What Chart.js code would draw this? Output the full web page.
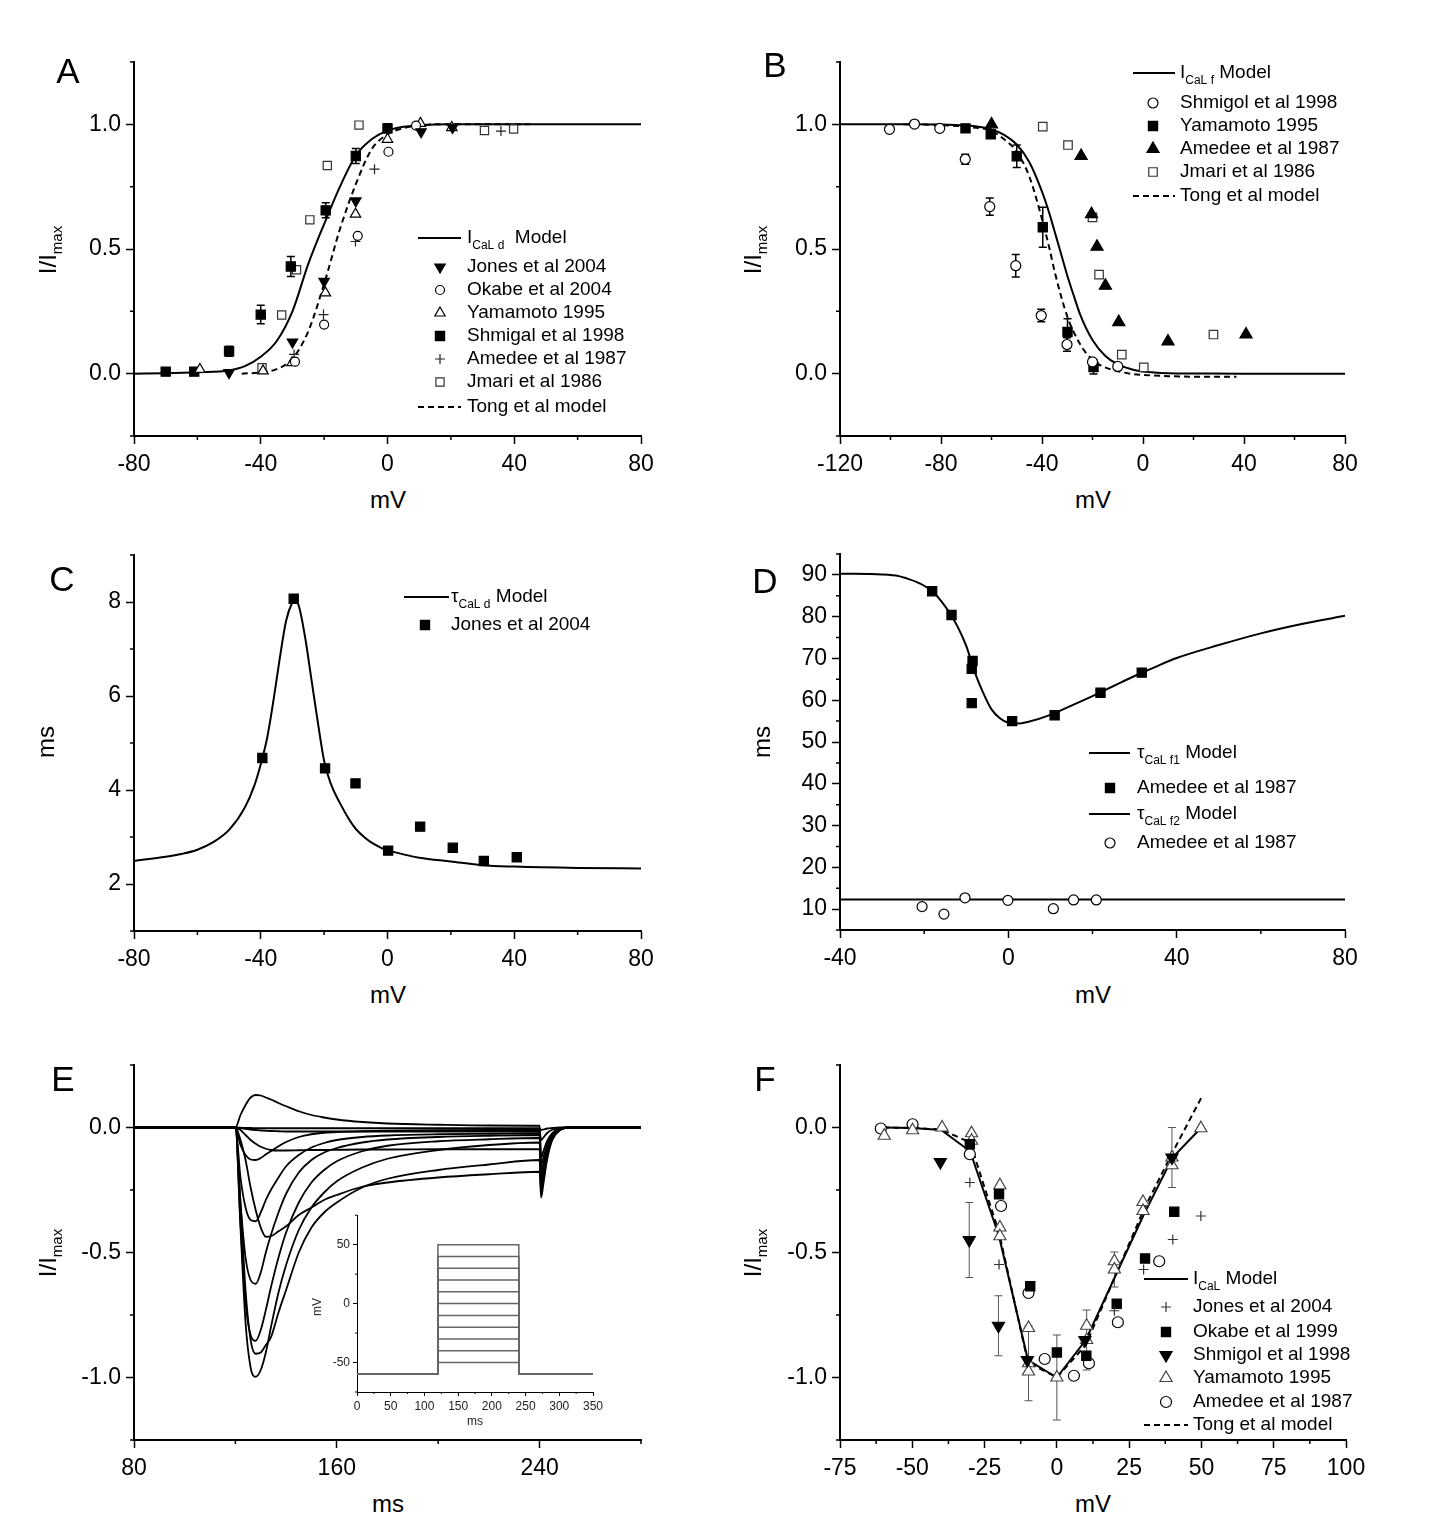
<!DOCTYPE html>
<html>
<head>
<meta charset="utf-8">
<script src="https://cdn.jsdelivr.net/npm/chart.js@4.4.0/dist/chart.umd.min.js"></script>
<style>
body{margin:0;background:#fff;font-family:"Liberation Sans",Arial,Helvetica,sans-serif;color:#000}
#page{position:relative;width:1447px;height:1530px;overflow:hidden;background:#fff}
canvas{position:absolute}
.t{position:absolute;white-space:nowrap;line-height:1}
.letter{font-size:35px;transform:translate(-50%,-50%)}
.xt{font-size:24px;transform:translate(-50%,-50%)}
.yt{font-size:24px;transform:translate(-50%,-50%) rotate(-90deg)}
.yt sub{font-size:15px;vertical-align:-6px}
.small{font-size:12px;color:#222}
</style>
</head>
<body>
<div id="page"></div>
<script>
// ---- A : activation ----
var aModelV = [-80,-70,-60,-50,-45,-40,-35,-30,-25,-20,-15,-10,-5,0,5,10,20,40,80];
var aModelI = [0,0.002,0.006,0.013,0.03,0.068,0.13,0.25,0.44,0.6,0.75,0.875,0.94,0.975,0.99,0.996,1,1,1];
var aTongV = [-46,-40,-35,-30,-25,-20,-15,-10,-5,0,5,10,15,20,30,45];
var aTongI = [0,0.005,0.018,0.06,0.17,0.36,0.58,0.76,0.9,0.96,0.985,0.995,1,1,1,1];
var aJonesV = [-50,-30,-20,-10,10.6,20.5];
var aJonesI = [0.004,0.127,0.37,0.693,0.97,0.987];
var aOkabeV = [-29.2,-20,-9.4,0.3,9];
var aOkabeI = [0.048,0.197,0.553,0.89,0.995];
var aYamaV = [-59.2,-39.3,-30.1,-19.6,-10.1,0,10.4,20.3];
var aYamaI = [0.017,0.011,0.044,0.324,0.64,0.94,1.004,0.987];
var aShmV = [-70,-61,-50,-40,-30.5,-19.5,-10,0];
var aShmI = [0.008,0.008,0.09,0.237,0.43,0.655,0.873,0.984];
var aShmErr = [0,0,0.02,0.037,0.04,0.03,0.03,0.018];
var aAmedV = [-29.5,-20.2,-10.1,-4.1,35.8];
var aAmedI = [0.077,0.237,0.53,0.82,0.973];
var aJmariV = [-39.6,-33.4,-28.7,-24.5,-19,-9,30.6,39.8];
var aJmariI = [0.024,0.235,0.417,0.617,0.835,0.997,0.975,0.981];

// ---- B : inactivation ----
var bModelV = [-120,-100,-90,-80,-70,-65,-60,-55,-50,-45,-40,-37,-35,-33,-30,-27,-25,-20,-15,-10,-5,0,10,20,40,80];
var bModelI = [1,1,1,0.999,0.995,0.99,0.979,0.958,0.919,0.848,0.73,0.64,0.57,0.5,0.394,0.3,0.24,0.135,0.072,0.037,0.019,0.009,0.002,0.001,0,0];
var bTongV = [-95,-80,-70,-60,-55,-50,-45,-40,-37,-35,-30,-25,-20,-15,-10,-5,0,10,20,30,37];
var bTongI = [1,0.997,0.99,0.973,0.94,0.89,0.79,0.62,0.5,0.41,0.23,0.12,0.055,0.025,0.01,0,-0.005,-0.01,-0.012,-0.012,-0.012];
var bShmV = [-100.4,-90.5,-80.5,-70.4,-60.7,-50.4,-40.3,-30.1,-20,-10];
var bShmI = [0.98,1.001,0.984,0.86,0.67,0.433,0.233,0.117,0.047,0.029];
var bShmErr = [0,0,0,0.02,0.035,0.045,0.025,0.027,0,0];
var bYamaV = [-70.3,-60.3,-50,-39.7,-29.9,-19.6];
var bYamaI = [0.984,0.96,0.872,0.587,0.167,0.027];
var bYamaErr = [0,0,0.045,0.08,0.053,0.028];
var bAmedV = [-60,-24.5,-20.4,-18.2,-14.9,-9.6,9.9,40.8];
var bAmedI = [1.0,0.873,0.64,0.509,0.353,0.207,0.129,0.157];
var bJmariV = [-39.7,-29.7,-20,-17.4,-8.4,0.3,27.9];
var bJmariI = [0.991,0.917,0.627,0.397,0.076,0.025,0.157];

// ---- C : tau d ----
var cModelV = [-80,-70,-65,-60,-55,-50,-45,-42,-40,-38,-36,-34,-32,-30,-29.4,-28,-26,-24,-22,-20,-18,-15,-12,-10,-7,-5,-2,0,5,10,20,30,40,60,80];
var cModelT = [2.49,2.58,2.64,2.73,2.89,3.15,3.63,4.1,4.55,5.1,5.9,6.8,7.6,8.0,8.05,7.92,7.25,6.35,5.45,4.62,4.15,3.72,3.36,3.17,2.98,2.88,2.77,2.72,2.63,2.56,2.48,2.4,2.37,2.34,2.33];
var cJonesV = [-39.5,-29.6,-19.7,-10.1,0.2,10.3,20.6,30.4,40.8];
var cJonesT = [4.68,8.07,4.46,4.14,2.71,3.22,2.77,2.49,2.57];

// ---- D : tau f1 / f2 ----
var dF1V = [-40,-30,-26,-24,-22,-20,-18,-16,-14,-12,-10,-8,-6,-4,-2,0,2,5,10,15,20,25,30,35,40,50,60,70,80];
var dF1T = [90.3,90.1,89.7,89.1,88.4,87.4,86.0,83.8,81.0,77.5,73.0,66.8,61.8,57.8,55.7,54.6,54.4,54.9,56.5,58.7,61.0,63.4,65.8,68.0,70.1,73.2,76.0,78.3,80.2];
var dF2V = [-40,80];
var dF2T = [12.3,12.3];
var dAmed1V = [-18.1,-13.5,-8.5,-8.7,-8.7,0.9,11,21.9,31.7];
var dAmed1T = [86.1,80.4,69.4,67.5,59.3,55,56.4,61.8,66.6];
var dAmed2V = [-20.5,-15.3,-10.3,-0.1,10.7,15.5,20.9];
var dAmed2T = [10.6,8.8,12.7,12.1,10.1,12.2,12.2];

// ---- E : current traces (steps -50..+50 mV) ----
var eT = [80,120,122,124,126,128,130,132,134,137,140,145,150,155,160,170,180,200,220,240,240.6,241.5,243,245,248,252,280];
var eP50 = [0,0,0.05,0.09,0.12,0.13,0.128,0.12,0.112,0.098,0.085,0.065,0.05,0.04,0.032,0.022,0.016,0.011,0.008,0.007,-0.12,-0.095,-0.054,-0.022,-0.005,0,0];
var eP40 = [0,0,-0.07,-0.11,-0.128,-0.13,-0.122,-0.108,-0.095,-0.075,-0.058,-0.038,-0.027,-0.021,-0.018,-0.015,-0.013,-0.011,-0.01,-0.01,-0.15,-0.12,-0.068,-0.027,-0.006,0,0];
var eP30 = [0,0,-0.2,-0.32,-0.37,-0.375,-0.34,-0.29,-0.25,-0.2,-0.155,-0.11,-0.08,-0.062,-0.05,-0.038,-0.032,-0.027,-0.025,-0.023,-0.18,-0.145,-0.08,-0.032,-0.007,0,0];
var eP20 = [0,0,-0.3,-0.52,-0.61,-0.625,-0.58,-0.5,-0.43,-0.34,-0.265,-0.18,-0.13,-0.1,-0.082,-0.06,-0.048,-0.038,-0.033,-0.03,-0.2,-0.16,-0.09,-0.036,-0.008,0,0];
var eP10 = [0,0,-0.38,-0.7,-0.83,-0.853,-0.81,-0.73,-0.64,-0.52,-0.42,-0.3,-0.22,-0.17,-0.135,-0.095,-0.073,-0.055,-0.047,-0.042,-0.22,-0.175,-0.1,-0.04,-0.009,0,0];
var eP0 = [0,0,-0.4,-0.78,-0.96,-0.997,-0.97,-0.9,-0.8,-0.66,-0.55,-0.41,-0.32,-0.26,-0.215,-0.16,-0.125,-0.09,-0.07,-0.06,-0.24,-0.19,-0.108,-0.043,-0.01,0,0];
var eM10 = [0,0,-0.3,-0.65,-0.85,-0.905,-0.9,-0.87,-0.84,-0.74,-0.65,-0.5,-0.4,-0.34,-0.3,-0.24,-0.205,-0.17,-0.148,-0.13,-0.26,-0.21,-0.117,-0.047,-0.01,0,0];
var eM20 = [0,0,-0.05,-0.13,-0.24,-0.33,-0.4,-0.437,-0.435,-0.415,-0.395,-0.35,-0.32,-0.29,-0.27,-0.237,-0.22,-0.2,-0.187,-0.177,-0.28,-0.225,-0.126,-0.05,-0.011,0,0];
var eM30 = [0,0,-0.01,-0.03,-0.05,-0.065,-0.077,-0.085,-0.09,-0.092,-0.092,-0.091,-0.09,-0.09,-0.089,-0.088,-0.088,-0.087,-0.087,-0.087,-0.2,-0.16,-0.09,-0.036,-0.008,0,0];
var eM40 = [0,0,-0.002,-0.005,-0.008,-0.01,-0.012,-0.013,-0.014,-0.015,-0.016,-0.016,-0.016,-0.016,-0.016,-0.016,-0.016,-0.016,-0.016,-0.016,-0.05,-0.04,-0.022,-0.009,-0.002,0,0];
var eM50 = [0,0,-0.001,-0.002,-0.002,-0.003,-0.003,-0.003,-0.003,-0.003,-0.003,-0.003,-0.003,-0.003,-0.003,-0.003,-0.003,-0.003,-0.003,-0.003,-0.01,-0.008,-0.004,-0.002,0,0,0];
// inset: voltage protocol
var insetT = [0,120,120,240,240,350];
var insetHold = -60;
var insetLevels = [-50,-40,-30,-20,-10,0,10,20,30,40,50];

// ---- F : I-V ----
var fModelV = [-60,-50,-40,-30,-20,-10,0,10,20,30,40,50];
var fModelI = [0,-0.002,-0.01,-0.095,-0.435,-0.93,-1.0,-0.85,-0.6,-0.35,-0.12,0];
var fTongI = [0,-0.002,-0.008,-0.06,-0.42,-0.94,-1.0,-0.87,-0.6,-0.33,-0.1,0.12];
var fJonesV = [-30.1,-20,19.9,30,40.1,49.8];
var fJonesI = [-0.22,-0.548,-0.733,-0.568,-0.448,-0.354];
var fOkabeV = [-30.1,-20,-9.2,0,10.2,20.7,30.5,40.6];
var fOkabeI = [-0.067,-0.267,-0.635,-0.9,-0.913,-0.705,-0.524,-0.337];
var fShmV = [-40.3,-30.3,-20.2,-10.2,9.7,39.8];
var fShmI = [-0.138,-0.45,-0.793,-0.93,-0.85,-0.12];
var fShmErr = [0,0.15,0.12,0,0,0];
var fYamaV = [-59.7,-49.9,-39.7,-29.5,-29.5,-19.7,-19.7,-19.7,-9.8,-9.8,-9.8,0,10.3,10.3,19.9,19.9,29.8,29.8,39.8,39.8,49.8];
var fYamaI = [-0.033,-0.011,0,-0.023,-0.053,-0.231,-0.4,-0.435,-0.802,-0.943,-0.976,-1.0,-0.793,-0.85,-0.535,-0.568,-0.298,-0.334,-0.12,-0.151,-0.003];
var fYamaErr = [0,0,0,0,0,0,0,0,0,0.15,0,0.17,0,0.12,0,0.07,0,0,0.12,0,0];
var fAmedV = [-60.9,-49.9,-30.1,-19.3,-9.8,-4.2,5.9,11.1,21.1,35.4];
var fAmedI = [-0.004,0.013,-0.107,-0.314,-0.662,-0.926,-0.993,-0.943,-0.779,-0.535];

// ticks
var aXTicks = [-80,-40,0,40,80], aXMinor = [-60,-20,20,60];
var bXTicks = [-120,-80,-40,0,40,80], bXMinor = [-100,-60,-20,20,60];
var iYTicks = [0,0.5,1], iYMinor = [-0.25,0.25,0.75,1.25];
var cYTicks = [2,4,6,8], cYMinor = [1,3,5,7,9];
var dXTicks = [-40,0,40,80], dXMinor = [-20,20,60];
var dYTicks = [10,20,30,40,50,60,70,80,90], dYMinor = [5,15,25,35,45,55,65,75,85,95];
var eXTicks = [80,160,240], eXMinor = [120,200,280];
var nYTicks = [-1,-0.5,0], nYMinor = [-1.25,-0.75,-0.25,0.25];
var fXTicks = [-75,-50,-25,0,25,50,75,100], fXMinor = [-62.5,-37.5,-12.5,12.5,37.5,62.5,87.5];
var inXTicks = [0,50,100,150,200,250,300,350], inXMinor = [25,75,125,175,225,275,325];
var inYTicks = [-50,0,50], inYMinor = [-75,-25,25,75];

var FONT = '"Liberation Sans", Arial, Helvetica, sans-serif';
Chart.defaults.font.family = FONT;
Chart.defaults.color = '#000';
Chart.defaults.animation = false;
Chart.defaults.events = [];
Chart.defaults.plugins.legend.display = false;
Chart.defaults.plugins.tooltip.enabled = false;

var page = document.getElementById('page');

function pts(xs, ys) { return xs.map(function(x, i){ return {x: x, y: ys[i]}; }); }

function curve(xs, ys, opt) {
  return Object.assign({data: pts(xs, ys), showLine: true, borderColor: '#000', borderWidth: 2,
    pointRadius: 0, fill: false, cubicInterpolationMode: 'monotone', order: 10}, opt || {});
}
function marks(xs, ys, style, r, open, opt) {
  return Object.assign({data: pts(xs, ys), showLine: false, pointStyle: style, pointRadius: r,
    pointBorderWidth: 1.2, pointBorderColor: '#000', pointBackgroundColor: open ? '#fff' : '#000',
    borderColor: '#000', backgroundColor: open ? '#fff' : '#000', order: 1}, opt || {});
}

var fmt1 = function(v){ return v.toFixed(1); };
var fmt0 = function(v){ return String(v); };

function axis(min, max, ticks, fmt, size, s) {
  return {
    type: 'linear', min: min, max: max,
    afterBuildTicks: function(sc){ sc.ticks = ticks.map(function(v){ return {value: v}; }); },
    afterFit: function(sc){ if (sc.isHorizontal()) sc.height = size; else sc.width = size; },
    grid: {display: true, drawOnChartArea: false, drawTicks: true, tickLength: s.tick, tickWidth: s.lw, tickColor: '#000'},
    border: {display: true, color: '#000', width: s.bw},
    ticks: {font: {size: s.font}, color: s.color, padding: s.pad, maxRotation: 0, autoSkip: false, callback: fmt}
  };
}

// minor tick marks on the two axes
var minorTicks = {
  id: 'minorTicks',
  afterDraw: function(chart, args, o) {
    var ctx = chart.ctx, xs = chart.scales.x, ys = chart.scales.y;
    ctx.save(); ctx.strokeStyle = '#000'; ctx.lineWidth = o.lw || 1.5;
    ctx.beginPath();
    (o.x || []).forEach(function(v){ var p = xs.getPixelForValue(v); ctx.moveTo(p, xs.top); ctx.lineTo(p, xs.top + o.len); });
    (o.y || []).forEach(function(v){ var p = ys.getPixelForValue(v); ctx.moveTo(ys.right, p); ctx.lineTo(ys.right - o.len, p); });
    ctx.stroke(); ctx.restore();
  }
};

var errorBars = {
  id: 'errorBars',
  beforeDatasetsDraw: function(chart) {
    var ctx = chart.ctx, xs = chart.scales.x, ys = chart.scales.y;
    chart.data.datasets.forEach(function(ds){
      if (!ds.errs) return;
      ctx.save(); ctx.strokeStyle = ds.errColor || '#000'; ctx.lineWidth = ds.errWidth || 1.5;
      ds.data.forEach(function(p, i){
        var e = ds.errs[i]; if (!e) return;
        var x = xs.getPixelForValue(p.x), y0 = ys.getPixelForValue(p.y - e), y1 = ys.getPixelForValue(p.y + e), c = ds.capW || 4;
        ctx.beginPath();
        ctx.moveTo(x, y0); ctx.lineTo(x, y1);
        ctx.moveTo(x - c, y0); ctx.lineTo(x + c, y0);
        ctx.moveTo(x - c, y1); ctx.lineTo(x + c, y1);
        ctx.stroke();
      });
      ctx.restore();
    });
  }
};

var legendBox = {
  id: 'legendBox',
  afterDraw: function(chart, args, o) {
    if (!o || !o.rows) return;
    var ctx = chart.ctx;
    ctx.save();
    o.rows.forEach(function(r){
      var ds = chart.data.datasets[r.ds];
      var y = r.y - o.oy;
      if (r.line) {
        ctx.strokeStyle = ds.borderColor; ctx.lineWidth = ds.borderWidth; ctx.setLineDash(ds.borderDash || []);
        ctx.beginPath(); ctx.moveTo(o.x0 - o.ox, y); ctx.lineTo(o.x1 - o.ox, y); ctx.stroke();
        ctx.setLineDash([]);
      } else {
        ctx.fillStyle = ds.pointBackgroundColor; ctx.strokeStyle = ds.pointBorderColor; ctx.lineWidth = ds.pointBorderWidth;
        Chart.helpers.drawPoint(ctx, {pointStyle: ds.pointStyle, rotation: ds.pointRotation || 0,
          radius: ds.pointRadius, borderWidth: ds.pointBorderWidth}, o.sx - o.ox, y);
      }
      var x = o.tx - o.ox;
      ctx.fillStyle = '#000'; ctx.textBaseline = 'middle'; ctx.textAlign = 'left';
      r.text.forEach(function(p){
        var sub = typeof p !== 'string', s = sub ? p.sub : p;
        ctx.font = (sub ? 12 : 19) + 'px ' + FONT;
        ctx.fillText(s, x, sub ? y + 8 : y);
        x += ctx.measureText(s).width;
      });
    });
    ctx.restore();
  }
};

var MAIN = {yw: 100, xh: 50, pt: 20, pr: 40, tick: 8, minor: 4, lw: 1.5, bw: 2, font: 23, pad: 5, color: '#000'};

function panel(box, sx, sy, datasets, minor, legend, st) {
  st = st || MAIN;
  var cv = document.createElement('canvas');
  var w = box.r - box.l + st.yw + st.pr, h = box.b - box.t + st.pt + st.xh;
  var ox = box.l - st.yw, oy = box.t - st.pt;
  cv.width = w; cv.height = h;
  cv.style.left = ox + 'px'; cv.style.top = oy + 'px';
  cv.style.width = w + 'px'; cv.style.height = h + 'px';
  page.appendChild(cv);
  var xAx = axis(sx.min, sx.max, sx.ticks, sx.fmt, st.xh, Object.assign({}, st, {pad: st.xpad || 7}));
  var yAx = axis(sy.min, sy.max, sy.ticks, sy.fmt, st.yw, st);
  if (legend) { legend.ox = ox; legend.oy = oy; }
  return new Chart(cv, {
    type: 'scatter',
    data: {datasets: datasets},
    options: {
      responsive: false,
      layout: {autoPadding: false, padding: {left: 0, right: st.pr, top: st.pt, bottom: 0}},
      scales: {x: xAx, y: yAx},
      plugins: {
        minorTicks: {x: minor.x, y: minor.y, len: st.minor, lw: st.lw},
        legendBox: legend || {}
      }
    },
    plugins: [errorBars, minorTicks, legendBox]
  });
}

var dash = {borderDash: [6, 4]};
var MOD = 'Model';

// A
panel({l: 134, t: 62, r: 641, b: 436},
  {min: -80, max: 80, ticks: aXTicks, fmt: fmt0},
  {min: -0.25, max: 1.25, ticks: iYTicks, fmt: fmt1},
  [
    curve(aModelV, aModelI),
    marks(aJonesV, aJonesI, 'triangle', 6, false, {pointRotation: 180}),
    marks(aOkabeV, aOkabeI, 'circle', 4.5, true),
    marks(aYamaV, aYamaI, 'triangle', 6, true),
    marks(aShmV, aShmI, 'rect', 6.5, false, {errs: aShmErr, capW: 4}),
    marks(aAmedV, aAmedI, 'cross', 5, false, {pointBorderColor: '#222'}),
    marks(aJmariV, aJmariI, 'rect', 5.8, true, {pointBorderColor: '#333'}),
    curve(aTongV, aTongI, dash)
  ],
  {x: aXMinor, y: iYMinor},
  {x0: 418, x1: 461, sx: 440, tx: 467, rows: [
    {ds: 0, line: true, y: 238, text: ['I', {sub: 'CaL d'}, '  ' + MOD]},
    {ds: 1, y: 267, text: ['Jones et al 2004']},
    {ds: 2, y: 290, text: ['Okabe et al 2004']},
    {ds: 3, y: 313, text: ['Yamamoto 1995']},
    {ds: 4, y: 336, text: ['Shmigal et al 1998']},
    {ds: 5, y: 359, text: ['Amedee et al 1987']},
    {ds: 6, y: 382, text: ['Jmari et al 1986']},
    {ds: 7, line: true, y: 407, text: ['Tong et al model']}
  ]});

// B
panel({l: 840, t: 62, r: 1345, b: 436},
  {min: -120, max: 80, ticks: bXTicks, fmt: fmt0},
  {min: -0.25, max: 1.25, ticks: iYTicks, fmt: fmt1},
  [
    curve(bModelV, bModelI),
    marks(bShmV, bShmI, 'circle', 5, true, {errs: bShmErr, capW: 4}),
    marks(bYamaV, bYamaI, 'rect', 6.5, false, {errs: bYamaErr, capW: 4}),
    marks(bAmedV, bAmedI, 'triangle', 7, false),
    marks(bJmariV, bJmariI, 'rect', 6, true, {pointBorderColor: '#333'}),
    curve(bTongV, bTongI, dash)
  ],
  {x: bXMinor, y: iYMinor},
  {x0: 1133, x1: 1175, sx: 1153, tx: 1180, rows: [
    {ds: 0, line: true, y: 73, text: ['I', {sub: 'CaL f'}, ' ' + MOD]},
    {ds: 1, y: 103, text: ['Shmigol et al 1998']},
    {ds: 2, y: 126, text: ['Yamamoto 1995']},
    {ds: 3, y: 149, text: ['Amedee et al 1987']},
    {ds: 4, y: 172, text: ['Jmari et al 1986']},
    {ds: 5, line: true, y: 196, text: ['Tong et al model']}
  ]});

// C
panel({l: 134, t: 555, r: 641, b: 931},
  {min: -80, max: 80, ticks: aXTicks, fmt: fmt0},
  {min: 1, max: 9, ticks: cYTicks, fmt: fmt0},
  [
    curve(cModelV, cModelT),
    marks(cJonesV, cJonesT, 'rect', 6.5, false)
  ],
  {x: aXMinor, y: cYMinor},
  {x0: 404, x1: 449, sx: 425, tx: 451, rows: [
    {ds: 0, line: true, y: 597, text: ['\u03c4', {sub: 'CaL d'}, ' ' + MOD]},
    {ds: 1, y: 625, text: ['Jones et al 2004']}
  ]});

// D
panel({l: 840, t: 554, r: 1345, b: 930},
  {min: -40, max: 80, ticks: dXTicks, fmt: fmt0},
  {min: 5, max: 95, ticks: dYTicks, fmt: fmt0},
  [
    curve(dF1V, dF1T),
    marks(dAmed1V, dAmed1T, 'rect', 6.5, false),
    curve(dF2V, dF2T),
    marks(dAmed2V, dAmed2T, 'circle', 5, true)
  ],
  {x: dXMinor, y: dYMinor},
  {x0: 1089, x1: 1130, sx: 1110, tx: 1137, rows: [
    {ds: 0, line: true, y: 753, text: ['\u03c4', {sub: 'CaL f1'}, ' ' + MOD]},
    {ds: 1, y: 788, text: ['Amedee et al 1987']},
    {ds: 2, line: true, y: 814, text: ['\u03c4', {sub: 'CaL f2'}, ' ' + MOD]},
    {ds: 3, y: 843, text: ['Amedee et al 1987']}
  ]});

// E
var eTraces = [eP50, eP40, eP30, eP20, eP10, eP0, eM10, eM20, eM30, eM40, eM50];
panel({l: 134, t: 1065, r: 641, b: 1440},
  {min: 80, max: 280, ticks: eXTicks, fmt: fmt0},
  {min: -1.25, max: 0.25, ticks: nYTicks, fmt: fmt1},
  eTraces.map(function(tr){ return curve(eT, tr, {borderWidth: 1.8}); }),
  {x: eXMinor, y: nYMinor},
  null);

// E inset (voltage protocol)
var INSET = {yw: 45, xh: 36, pt: 10, pr: 20, tick: 4, minor: 2, lw: 1, bw: 1, font: 12, pad: 3, xpad: 3, color: '#222'};
panel({l: 357, t: 1215, r: 593, b: 1392},
  {min: 0, max: 350, ticks: inXTicks, fmt: fmt0},
  {min: -75, max: 75, ticks: inYTicks, fmt: fmt0},
  insetLevels.map(function(lv){
    var vs = [insetHold, insetHold, lv, lv, insetHold, insetHold];
    return curve(insetT, vs, {borderColor: '#666', borderWidth: 1.5, cubicInterpolationMode: 'default', tension: 0});
  }),
  {x: inXMinor, y: inYMinor},
  null, INSET);

// F
panel({l: 840, t: 1065, r: 1346, b: 1440},
  {min: -75, max: 100, ticks: fXTicks, fmt: fmt0},
  {min: -1.25, max: 0.25, ticks: nYTicks, fmt: fmt1},
  [
    curve(fModelV, fModelI, {cubicInterpolationMode: 'default', tension: 0}),
    marks(fJonesV, fJonesI, 'cross', 5, false, {pointBorderColor: '#333'}),
    marks(fOkabeV, fOkabeI, 'rect', 6.5, false),
    marks(fShmV, fShmI, 'triangle', 7, false, {pointRotation: 180, errs: fShmErr, errColor: '#555', errWidth: 1, capW: 4}),
    marks(fYamaV, fYamaI, 'triangle', 7, true, {pointBorderColor: '#444', errs: fYamaErr, errColor: '#555', errWidth: 1, capW: 4}),
    marks(fAmedV, fAmedI, 'circle', 5.5, true),
    curve(fModelV, fTongI, {borderDash: [6, 4], cubicInterpolationMode: 'default', tension: 0})
  ],
  {x: fXMinor, y: nYMinor},
  {x0: 1144, x1: 1188, sx: 1166, tx: 1193, rows: [
    {ds: 0, line: true, y: 1279, text: ['I', {sub: 'CaL'}, ' ' + MOD]},
    {ds: 1, y: 1307, text: ['Jones et al 2004']},
    {ds: 2, y: 1332, text: ['Okabe et al 1999']},
    {ds: 3, y: 1355, text: ['Shmigol et al 1998']},
    {ds: 4, y: 1378, text: ['Yamamoto 1995']},
    {ds: 5, y: 1402, text: ['Amedee et al 1987']},
    {ds: 6, line: true, y: 1425, text: ['Tong et al model']}
  ]});

// text labels
var labels = [
  ['letter', 68, 70, 'A'], ['letter', 775, 64, 'B'], ['letter', 62, 578, 'C'],
  ['letter', 765, 580, 'D'], ['letter', 63, 1078, 'E'], ['letter', 765, 1078, 'F'],
  ['xt', 388, 500, 'mV'], ['xt', 1093, 500, 'mV'], ['xt', 388, 995, 'mV'],
  ['xt', 1093, 995, 'mV'], ['xt', 388, 1504, 'ms'], ['xt', 1093, 1504, 'mV'],
  ['yt', 50, 250, 'I/I<sub>max</sub>'], ['yt', 755, 250, 'I/I<sub>max</sub>'],
  ['yt', 46, 742, 'ms'], ['yt', 762, 742, 'ms'],
  ['yt', 50, 1253, 'I/I<sub>max</sub>'], ['yt', 755, 1253, 'I/I<sub>max</sub>'],
  ['xt small', 475, 1421, 'ms'], ['yt small', 317, 1307, 'mV']
];
labels.forEach(function(l){
  var d = document.createElement('div');
  d.className = 't ' + l[0];
  d.style.left = l[1] + 'px'; d.style.top = l[2] + 'px';
  d.innerHTML = l[3];
  page.appendChild(d);
});
</script>
</body>
</html>
